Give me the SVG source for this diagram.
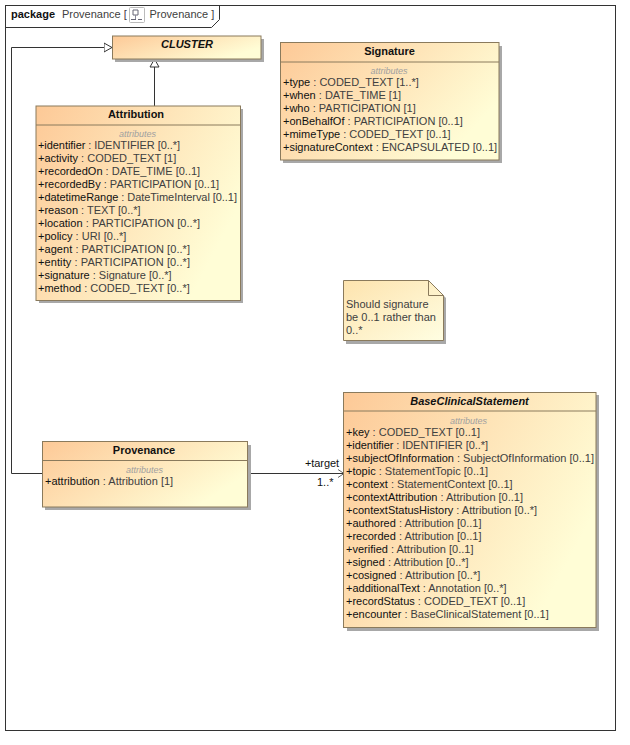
<svg xmlns="http://www.w3.org/2000/svg" width="630" height="745" viewBox="0 0 630 745">
<style>
text{font-family:"Liberation Sans",Arial,sans-serif;font-size:11px;fill:#111}
.t{fill:#404040}
.n{font-weight:bold;font-size:11px;text-anchor:middle}
.i{font-style:italic}
.s{font-style:italic;font-size:9px;fill:#a0a0a0;text-anchor:middle}
.box{fill:url(#g);stroke:#8a7a5c;stroke-width:1}
.sh{fill:#a8a8a8}
.ln{stroke:#8a7a5c;stroke-width:1;fill:none}
.c{fill:none;stroke:#333;stroke-width:1}
.frame{fill:none;stroke:#333;stroke-width:1}
</style>
<defs>
<linearGradient id="g" x1="0" y1="0" x2="1" y2="0.5"><stop offset="0" stop-color="#fdc997"/><stop offset="1" stop-color="#fffdd6"/></linearGradient>
<linearGradient id="gn" x1="0" y1="0" x2="1" y2="1"><stop offset="0" stop-color="#fde3ae"/><stop offset="1" stop-color="#fffee2"/></linearGradient>
<marker id="tri" markerUnits="userSpaceOnUse" markerWidth="10" markerHeight="11" refX="8.500" refY="5.500" orient="auto"><path d="M0.500,1 L8.500,5.500 L0.500,10 Z" fill="#fff" stroke="#333"/></marker>
<marker id="open" markerUnits="userSpaceOnUse" markerWidth="8" markerHeight="10" refX="7" refY="5" orient="auto"><path d="M1,1 L7,5 L1,9" fill="none" stroke="#666"/></marker>
</defs>
<rect width="630" height="745" fill="#fff"/>
<g id="frame">
<rect class="frame" x="5.500" y="5.500" width="610" height="725"/>
<path class="frame" d="M5.500,27.500 H211.500 L219.500,19.500 V5.500"/>
<text x="11" y="18" style="font-weight:bold;font-size:11px">package</text>
<text x="62" y="18" class="t" style="font-size:11px">Provenance [</text>
<g fill="none" stroke-width="1"><rect x="129.500" y="7.500" width="15" height="15" rx="1" fill="#fff" stroke="#bbb"/><path d="M133,10 H138 V15 H133 Z M131,19.500 H136 M138,19.500 H142" stroke="#667"/><path d="M135.500,15 V19" stroke="#889"/></g>
<text x="149.500" y="18" class="t" style="font-size:11px">Provenance ]</text>
</g>
<g id="connectors">
<path class="c" d="M154.500,106 V59" marker-end="url(#tri)"/>
<path class="c" d="M42,473.500 H11.500 V47.500 H112" marker-end="url(#tri)"/>
<path class="c" d="M248,473.500 H344" marker-end="url(#open)"/>
<text x="305" y="467" textLength="34">+target</text>
<text x="317" y="486">1..*</text>
</g>
<g id="cluster">
<rect class="sh" x="115" y="39" width="149" height="23"/>
<rect class="box" x="112.500" y="36" width="148.500" height="23"/>
<text class="n i" x="187" y="48">CLUSTER</text>
</g>
<g id="attribution">
<rect class="sh" x="39" y="109" width="204" height="194"/>
<rect class="box" x="36" y="106" width="204.500" height="194.500"/>
<path class="ln" d="M36,125 H240.500"/>
<text class="n" x="136" y="118">Attribution</text>
<text class="s" x="137.500" y="137">attributes</text>
<text x="38" y="149" textLength="142">+identifier<tspan class="t"> : IDENTIFIER [0..*]</tspan></text>
<text x="38" y="162">+activity<tspan class="t"> : CODED_TEXT [1]</tspan></text>
<text x="38" y="175">+recordedOn<tspan class="t"> : DATE_TIME [0..1]</tspan></text>
<text x="38" y="188">+recordedBy<tspan class="t"> : PARTICIPATION [0..1]</tspan></text>
<text x="38" y="201" textLength="199">+datetimeRange<tspan class="t"> : DateTimeInterval [0..1]</tspan></text>
<text x="38" y="214">+reason<tspan class="t"> : TEXT [0..*]</tspan></text>
<text x="38" y="227" textLength="162">+location<tspan class="t"> : PARTICIPATION [0..*]</tspan></text>
<text x="38" y="240">+policy<tspan class="t"> : URI [0..*]</tspan></text>
<text x="38" y="253" textLength="152">+agent<tspan class="t"> : PARTICIPATION [0..*]</tspan></text>
<text x="38" y="266" textLength="152">+entity<tspan class="t"> : PARTICIPATION [0..*]</tspan></text>
<text x="38" y="279">+signature<tspan class="t"> : Signature [0..*]</tspan></text>
<text x="38" y="292">+method<tspan class="t"> : CODED_TEXT [0..*]</tspan></text>
</g>
<g id="signature">
<rect class="sh" x="283" y="46" width="219" height="117"/>
<rect class="box" x="280.500" y="42.500" width="218.500" height="117.500"/>
<path class="ln" d="M280.500,62 H499"/>
<text class="n" x="389.500" y="55">Signature</text>
<text class="s" x="389" y="74">attributes</text>
<text x="283" y="86">+type<tspan class="t"> : CODED_TEXT [1..*]</tspan></text>
<text x="283" y="99">+when<tspan class="t"> : DATE_TIME [1]</tspan></text>
<text x="283" y="112">+who<tspan class="t"> : PARTICIPATION [1]</tspan></text>
<text x="283" y="125">+onBehalfOf<tspan class="t"> : PARTICIPATION [0..1]</tspan></text>
<text x="283" y="138">+mimeType<tspan class="t"> : CODED_TEXT [0..1]</tspan></text>
<text x="283" y="151">+signatureContext<tspan class="t"> : ENCAPSULATED [0..1]</tspan></text>
</g>
<g id="note">
<path class="sh" d="M346,283 H431 L446,298 V344 H346 Z"/>
<path d="M343.500,280.500 H428.500 L443.500,295.500 V340.500 H343.500 Z" fill="url(#gn)" stroke="#8a7a5c"/>
<path d="M428.500,280.500 V295.500 H443.500" class="ln"/>
<text x="346" y="308" class="t">Should signature</text>
<text x="346" y="321" class="t">be 0..1 rather than</text>
<text x="346" y="334" class="t">0..*</text>
</g>
<g id="provenance">
<rect class="sh" x="45" y="445" width="206" height="65"/>
<rect class="box" x="42.500" y="441.500" width="205" height="65.500"/>
<path class="ln" d="M42.500,460.500 H247.500"/>
<text class="n" x="144" y="454">Provenance</text>
<text class="s" x="144.500" y="473">attributes</text>
<text x="45" y="485">+attribution<tspan class="t"> : Attribution [1]</tspan></text>
</g>
<g id="base-clinical-statement">
<rect class="sh" x="347" y="395" width="252" height="236"/>
<rect class="box" x="343.500" y="392.500" width="252.500" height="235"/>
<path class="ln" d="M343.500,411 H596"/>
<text class="n i" x="469.500" y="405">BaseClinicalStatement</text>
<text class="s" x="468.500" y="424">attributes</text>
<text x="346" y="436">+key<tspan class="t"> : CODED_TEXT [0..1]</tspan></text>
<text x="346" y="449" textLength="142">+identifier<tspan class="t"> : IDENTIFIER [0..*]</tspan></text>
<text x="346" y="462">+subjectOfInformation<tspan class="t"> : SubjectOfInformation [0..1]</tspan></text>
<text x="346" y="475">+topic<tspan class="t"> : StatementTopic [0..1]</tspan></text>
<text x="346" y="488">+context<tspan class="t"> : StatementContext [0..1]</tspan></text>
<text x="346" y="501">+contextAttribution<tspan class="t"> : Attribution [0..1]</tspan></text>
<text x="346" y="514">+contextStatusHistory<tspan class="t"> : Attribution [0..*]</tspan></text>
<text x="346" y="527">+authored<tspan class="t"> : Attribution [0..1]</tspan></text>
<text x="346" y="540">+recorded<tspan class="t"> : Attribution [0..1]</tspan></text>
<text x="346" y="553">+verified<tspan class="t"> : Attribution [0..1]</tspan></text>
<text x="346" y="566">+signed<tspan class="t"> : Attribution [0..*]</tspan></text>
<text x="346" y="579">+cosigned<tspan class="t"> : Attribution [0..*]</tspan></text>
<text x="346" y="592">+additionalText<tspan class="t"> : Annotation [0..*]</tspan></text>
<text x="346" y="605">+recordStatus<tspan class="t"> : CODED_TEXT [0..1]</tspan></text>
<text x="346" y="618">+encounter<tspan class="t"> : BaseClinicalStatement [0..1]</tspan></text>
</g>
</svg>
